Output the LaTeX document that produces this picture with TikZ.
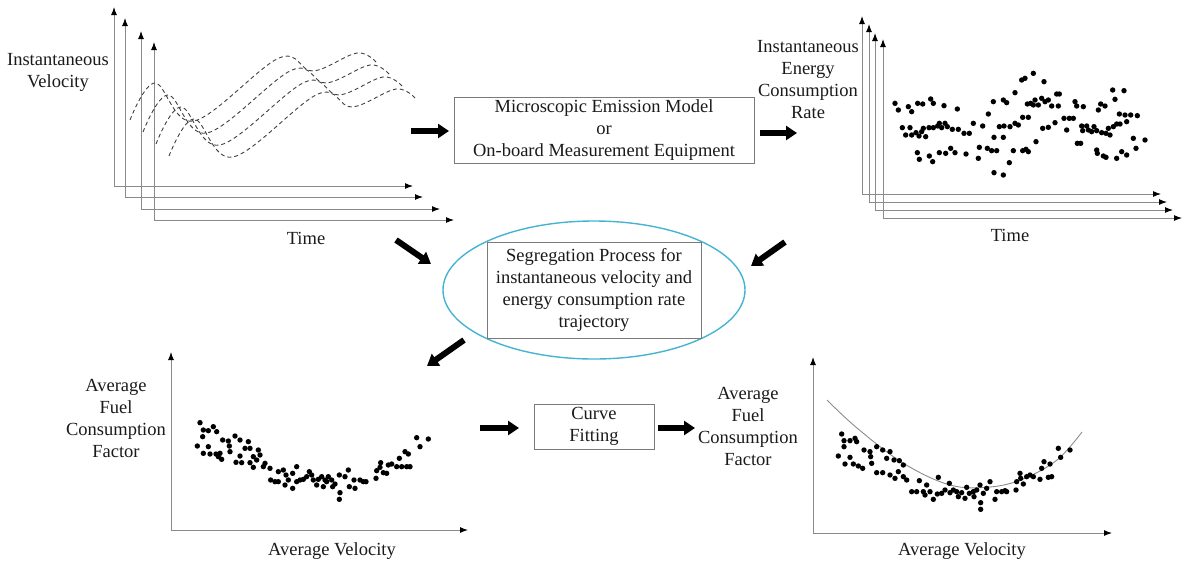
\documentclass[tikz,border=0pt]{standalone}
\usepackage{fontspec}
\setmainfont{Liberation Serif}
\usetikzlibrary{arrows.meta,shapes.geometric}
\definecolor{axgray}{HTML}{8A8A8A}
\definecolor{boxgray}{HTML}{7A7A7A}
\definecolor{ink}{HTML}{1A1A1A}
\definecolor{ringblue}{HTML}{45B4D2}
\tikzset{
  ax/.style={draw=axgray, line width=1pt, -{Latex[length=8pt,width=6pt,color=black]}},
  fat/.style={draw=black, line width=6pt, -{Triangle[length=11pt,width=14pt]}},
  lbl/.style={text=ink, align=center, font=\fontsize{18.5}{22}\selectfont, inner sep=0pt},
  procbox/.style={draw=boxgray, line width=1pt, text=ink, align=center,
    font=\fontsize{18.5}{22}\selectfont, inner sep=0pt},
  trace/.style={draw=black!75, line width=0.9pt, dash pattern=on 4pt off 3pt},
  fitline/.style={draw=black!45, line width=0.9pt},
  dot/.style={fill=black},
}
\begin{document}
\begin{tikzpicture}[x=1pt,y=-1pt]
\useasboundingbox (0,0) rectangle (1185,563);

% ---------- velocity traces (top left) ----------
\foreach \ox/\oy/\top/\xend in {114/186/7/413, 125/197/18/423, 141/209/31/440, 154/220/42/454} {
  \coordinate (o) at (\ox,\oy);
  \coordinate (t) at (\ox,\top);
  \coordinate (e) at (\xend,\oy);
  \draw[ax] (o) -- (t);
  \draw[ax] (o) -- (e);
}
\foreach \i in {0,1,2,3} {
  \begin{scope}[shift={({13*\i},{12*\i})}]
    \draw[trace] plot[smooth, tension=0.6] coordinates
      {(130,120) (155,83) (194,121) (279,58) (313,71) (357,53) (377,63)};
  \end{scope}
}
\node[lbl] (vlabel) at (58,72) {Instantaneous\\Velocity};
\node[lbl] (tlabel1) at (306,238) {Time};

% ---------- measurement box ----------
\node[procbox, minimum width=300, minimum height=66] (meas) at (604,130)
  {Microscopic Emission Model\\or\\On-board Measurement Equipment};

% ---------- energy consumption rate (top right) ----------
\foreach \ox/\oy/\top/\xend in {862/194/16/1161, 869/202/24/1167, 875/210/33/1173, 883/218/39/1182} {
  \coordinate (o) at (\ox,\oy);
  \coordinate (t) at (\ox,\top);
  \coordinate (e) at (\xend,\oy);
  \draw[ax] (o) -- (t);
  \draw[ax] (o) -- (e);
}
\foreach \x/\y in {465/310,475/330,505/320,515/335,533/310,548/312,572/297,580/310,612/317,652/327,
  487/383,497/405,510/383,515/405,528/398,537/408,545/395,550/385,557/410,567/383,580/383,593/378,
  598/370,605/383,615/370,622/380,637/388,655/388,672/400,688/400,700/370,728/378,
  532/458,538/478,568/468,578/485,598/458,617/460,632/445,645/458,678/462,715/475,718/442,742/445,
  755/452,770/452,808/488,820/452,848/452,858/448,865/455,888/425,
  762/518,790/525,762/412,790/412,745/342,760/305,790/300,800/308,825/278,845/240,855/235,880/220,
  912/245,778/380,792/378,810/380,825/370,835/375,848/352,865/352,862/312,872/310,885/300,880/315,
  895/315,905/295,915/305,925/300,935/318,950/282,958/282,955/318,908/385,925/382,945/368,972/355,
  988/355,1000/355,980/390,1005/305,1010/318,1030/320,1012/430,1022/430,1025/378,1028/392,1040/378,
  1045/390,1055/395,1062/380,1070/392,1075/330,1082/312,1095/318,1118/270,1125/298,1152/272,
  1085/398,1098/400,1110/405,1105/385,1120/380,1130/372,1138/342,1155/345,1172/345,1192/347,
  1140/372,1160/365,1180/415,1215/420,1188/445,1070/450,1072/460,1090/468,1098/472,1130/475,
  1145/455,1160/465} {
  \fill[dot] ({740+\x/3},{\y/3}) circle[radius=2.7pt];
}
\node[lbl] (elabel) at (808,80) {Instantaneous\\Energy\\Consumption\\Rate};
\node[lbl] (tlabel2) at (1010,235) {Time};

% ---------- segregation process ----------
\node[ellipse, draw=ringblue, line width=1.4pt, minimum width=302, minimum height=138, inner sep=0pt]
  (seg) at (594,290) {};
\node[procbox, minimum width=214, minimum height=96] (segbox) at (594,290)
  {Segregation Process for\\instantaneous velocity and\\energy consumption rate\\trajectory};

% ---------- average fuel consumption (bottom left) ----------
\coordinate (bl-o) at (171,530);
\coordinate (bl-t) at (171,352);
\coordinate (bl-e) at (468,530);
\draw[ax] (bl-o) -- (bl-t);
\draw[ax] (bl-o) -- (bl-e);
\foreach \x/\y in {150/248,160/270,158/290,175/272,190/260,200/275,142/318,175/320,160/340,180/342,
  198/342,205/350,215/358,210/340,218/300,235/303,238/318,240/335,255/288,270/300,258/367,270/348,
  285/325,295/305,300/325,310/350,325/330,275/368,300/368,310/382,320/360,330/345,340/380,345/370,
  360/385,362/420,375/425,385/395,385/425,400/390,405/435,408/405,415/420,428/445,428/400,440/380,
  440/425,450/420,460/418,470/410,478/395,485/405,490/420,500/435,505/418,515/410,520/440,525/420,
  530/425,535/410,548/440,545/420,555/432,568/405,570/458,568/478,585/410,595/390,598/440,612/420,
  615/445,630/420,640/425,648/425,678/415,680/392,692/368,690/382,700/398,710/400,715/375,725/372,
  740/380,748/355,755/380,765/335,770/380,780/380,775/342,800/293,810/320,835/297} {
  \fill[dot] ({150+\x/3},{340+\y/3}) circle[radius=2.7pt];
}
\node[lbl] (flabel1) at (116,418) {Average\\Fuel\\Consumption\\Factor};
\node[lbl] (vlabel1) at (332,551) {Average Velocity};

% ---------- curve fitting ----------
\node[procbox, minimum width=120, minimum height=45] (fit) at (594,426.5) {Curve\\Fitting};

% ---------- fitted curve (bottom right) ----------
\coordinate (br-o) at (813,533);
\coordinate (br-t) at (813,357);
\coordinate (br-e) at (1112,533);
\draw[ax] (br-o) -- (br-t);
\draw[ax] (br-o) -- (br-e);
\draw[fitline] plot[smooth, tension=0.6] coordinates
  {(827,400) (857,428) (903,463) (950,485) (990,487) (1023,479) (1057,460) (1082,432)};
\foreach \x/\y in {455/282,462/302,462/320,480/302,495/295,500/305,445/348,480/352,465/372,490/372,
  505/378,518/385,522/330,540/335,542/350,545/370,560/320,578/330,560/398,578/398,590/355,600/335,
  612/360,628/362,640/375,600/405,615/415,625/395,640/410,650/420,665/455,680/455,688/422,700/455,
  705/465,710/435,720/455,730/478,745/412,742/462,755/460,765/450,778/430,780/458,790/450,800/455,
  805/470,815/458,825/475,830/442,838/460,850/455,852/470,860/450,870/435,872/488,872/508,880/460,
  890/445,900/425,915/478,920/455,935/455,945/452,950/455,978/450,980/425,990/400,992/415,1000/432,
  1010/410,1020/405,1030/410,1050/418,1055/385,1062/365,1075/412,1080/372,1085/410,1105/325,
  1112/352,1140/330} {
  \fill[dot] ({690+\x/3},{340+\y/3}) circle[radius=2.7pt];
}
\node[lbl] (flabel2) at (748,426) {Average\\Fuel\\Consumption\\Factor};
\node[lbl] (vlabel2) at (962,551) {Average Velocity};

% ---------- flow arrows ----------
\coordinate (a1s) at (411,131);  \coordinate (a1e) at (449,131);
\coordinate (a2s) at (760,133);  \coordinate (a2e) at (797,133);
\coordinate (a3s) at (396,240);  \coordinate (a3e) at (431,264);
\coordinate (a4s) at (785,242);  \coordinate (a4e) at (751,266);
\coordinate (a5s) at (464,340);  \coordinate (a5e) at (427,366);
\coordinate (a6s) at (480,428);  \coordinate (a6e) at (519,428);
\coordinate (a7s) at (658,428);  \coordinate (a7e) at (695,428);
\draw[fat] (a1s) -- (a1e);
\draw[fat] (a2s) -- (a2e);
\draw[fat] (a3s) -- (a3e);
\draw[fat] (a4s) -- (a4e);
\draw[fat] (a5s) -- (a5e);
\draw[fat] (a6s) -- (a6e);
\draw[fat] (a7s) -- (a7e);
\end{tikzpicture}
\end{document}
